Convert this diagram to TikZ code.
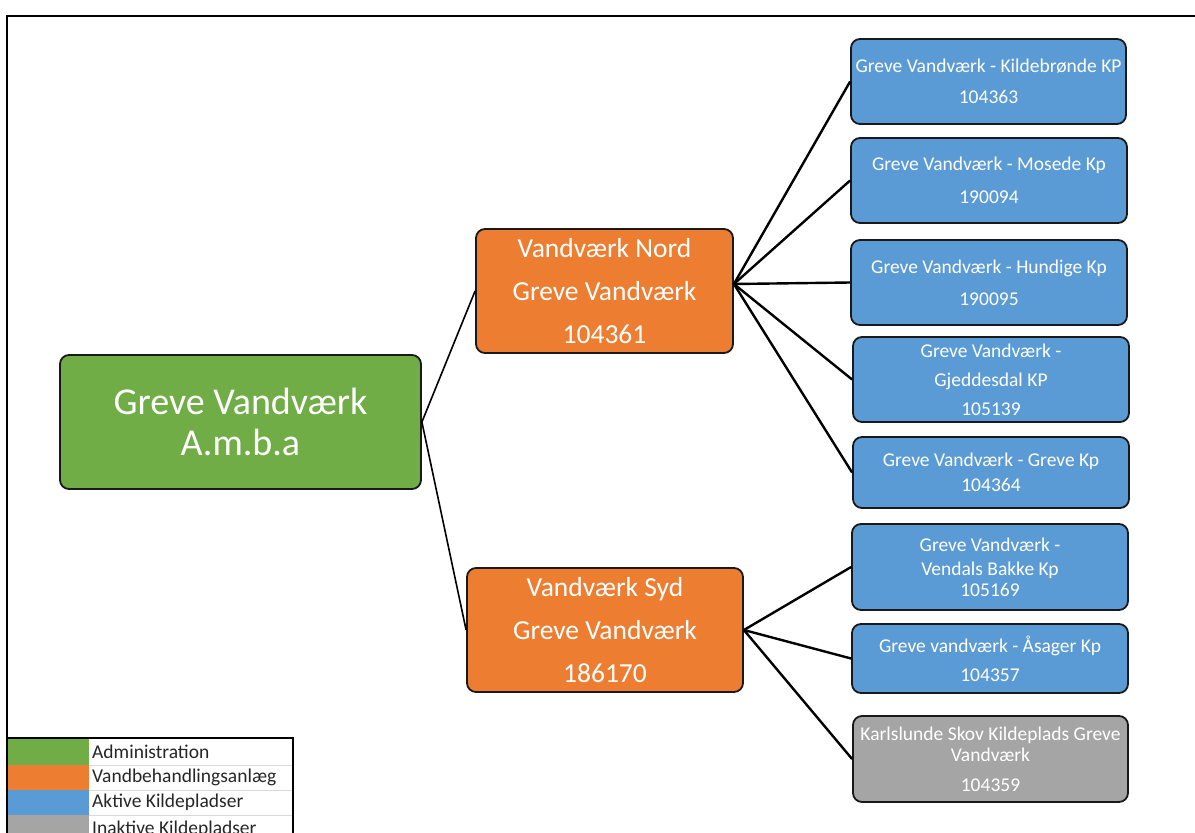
\documentclass[tikz,border=0pt]{standalone}
\usepackage{fontspec}
\setmainfont{Carlito}
\usetikzlibrary{calc}
\definecolor{admgreen}{HTML}{70AD47}
\definecolor{vborange}{HTML}{ED7D31}
\definecolor{aktblue}{HTML}{5B9BD5}
\definecolor{inkgray}{HTML}{A5A5A5}
\definecolor{sepgray}{HTML}{D9D9D9}
\tikzset{
  box/.style={draw=black!90, line width=1.8pt, rounded corners=9pt, text=white, align=center, inner sep=0pt},
  admbox/.style={box, fill=admgreen, minimum width=361pt, minimum height=134pt, font=\fontsize{38}{45.6}\selectfont},
  vbbox/.style={box, fill=vborange, minimum width=257pt, minimum height=124pt, font=\fontsize{27.5}{33}\selectfont},
  ktbox/.style={box, fill=aktblue, minimum width=276pt, minimum height=85pt, font=\fontsize{19.5}{23.4}\selectfont},
  inbox/.style={ktbox, fill=inkgray},
  link/.style={line width=2.4pt, black},
  thinlink/.style={line width=1.6pt, black},
  legtext/.style={anchor=west, font=\fontsize{19.5}{22}\selectfont, text=black!85, inner sep=0pt}
}
\begin{document}
\begin{tikzpicture}[x=1pt,y=-1pt]
\useasboundingbox (0,0) rectangle (1195,833);
\clip (0,0) rectangle (1195,833);
% frame
\draw[line width=2.5pt] (7,850) -- (7,16) -- (1200,16);

% nodes
\node[admbox] (adm) at (240.5,422) {Greve Vandværk\\[-5pt]A.m.b.a};
\node[vbbox] (nord) at (604.5,291) {Vandværk Nord\\[10pt]Greve Vandværk\\[10pt]104361};
\node[vbbox, minimum width=276pt] (syd) at (605,630) {Vandværk Syd\\[10pt]Greve Vandværk\\[10pt]186170};

\node[ktbox, minimum width=275pt] (k1) at (988.5,81.5) {Greve Vandværk - Kildebrønde KP\\[7.6pt]104363};
\node[ktbox] (k2) at (989,180.5) {Greve Vandværk - Mosede Kp\\[9.6pt]190094};
\node[ktbox] (k3) at (989,282.5) {Greve Vandværk - Hundige Kp\\[8.6pt]190095};
\node[ktbox] (k4) at (991,379.5) {Greve Vandværk -\\[5.6pt]Gjeddesdal KP\\[5.6pt]105139};
\node[ktbox, minimum height=71pt] (k5) at (991,472.5) {Greve Vandværk - Greve Kp\\[1.6pt]104364};
\node[ktbox, minimum height=86pt] (k6) at (990,567) {Greve Vandværk -\\[0.6pt]Vendals Bakke Kp\\[-2.4pt]105169};
\node[ktbox, minimum height=69pt] (k7) at (990,658.5) {Greve vandværk - Åsager Kp\\[5.6pt]104357};
\node[inbox, minimum width=275pt, minimum height=86pt] (i1) at (990.5,759) {Karlslunde Skov Kildeplads Greve\\[-2.4pt]Vandværk\\[6.6pt]104359};

% connectors
\draw[thinlink] (adm.east) -- (nord.west);
\draw[thinlink] (adm.east) -- (syd.west);
\coordinate (nordout) at ($(nord.east)+(0,-7)$);
\foreach \k in {k1,k2,k3,k4,k5}{\draw[link] (nordout) -- (\k.west);}
\foreach \k in {k6,k7,i1}{\draw[link] (syd.east) -- (\k.west);}

% legend
\fill[admgreen] (8,739) rectangle (89,765);
\fill[vborange] (8,765) rectangle (89,790);
\fill[aktblue] (8,790) rectangle (89,815);
\fill[inkgray] (8,815) rectangle (89,850);
\draw[sepgray, line width=0.8pt] (89,765) -- (292,765) (89,790) -- (292,790) (89,815) -- (292,815);
\draw[line width=1.6pt] (7,738) -- (293,738) -- (293,850);
\node[legtext] (l1) at (92,752) {Administration};
\node[legtext] (l2) at (92,777.5) {Vandbehandlingsanlæg};
\node[legtext] (l3) at (92,802.5) {Aktive Kildepladser};
\node[legtext] (l4) at (92,829) {Inaktive Kildepladser};
\end{tikzpicture}
\end{document}
